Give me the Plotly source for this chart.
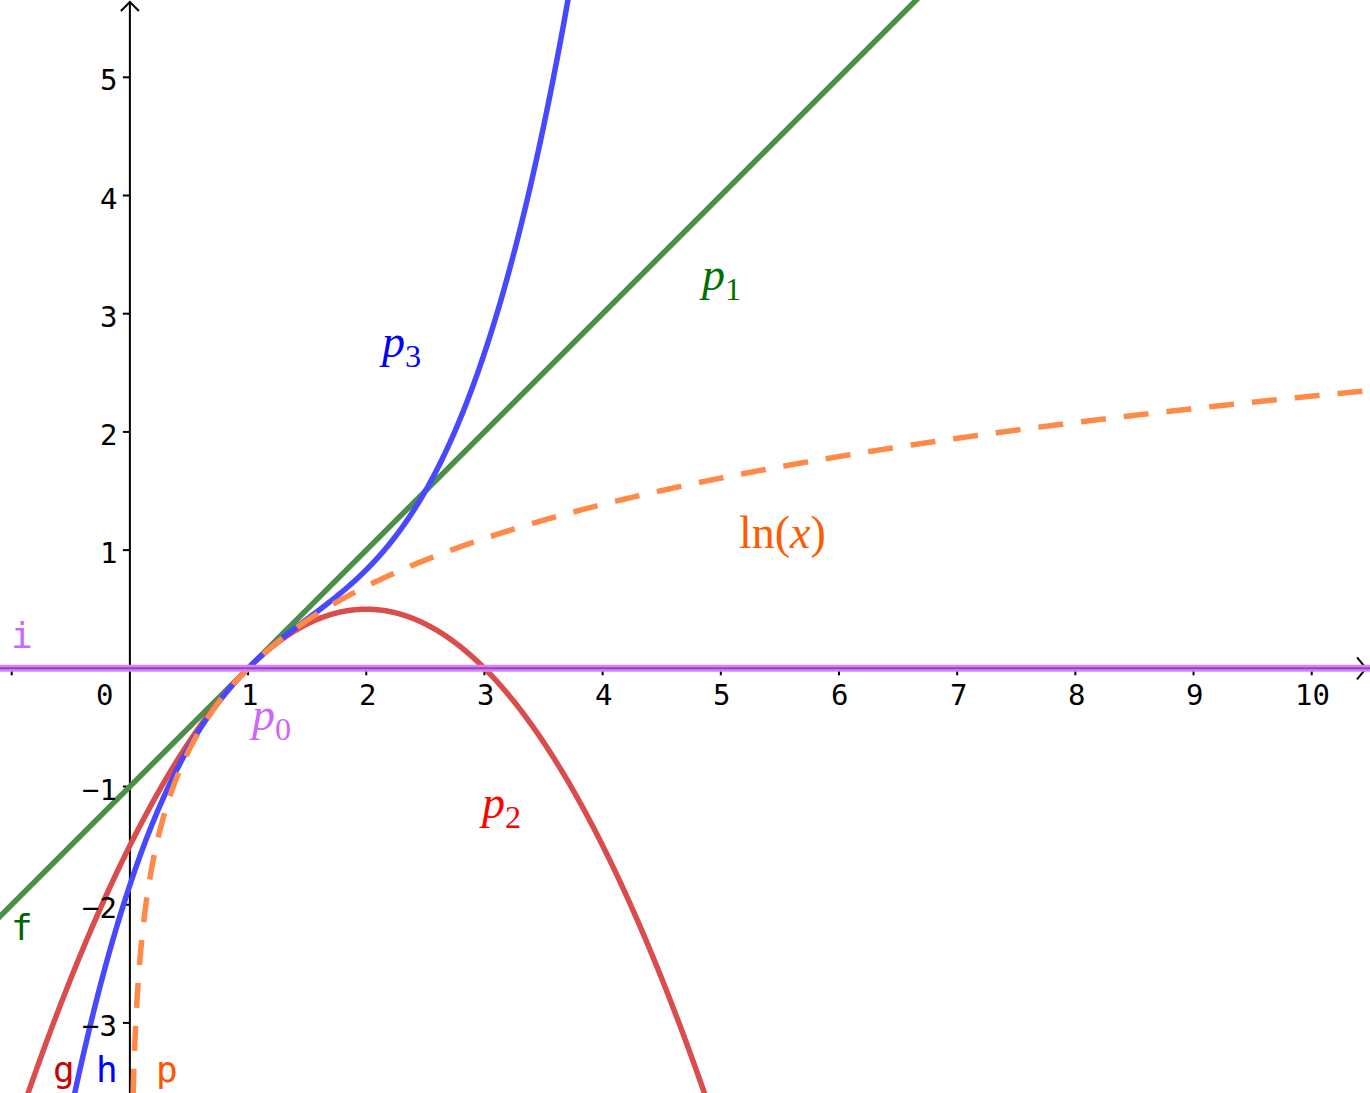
import numpy as np
import plotly.graph_objects as go

W, H = 1370, 1093
X_RANGE = [-1.099, 10.493]
Y_RANGE = [-3.593, 5.654]

# Taylor polynomial coefficients of ln(x) around x = 1, in powers of (x - 1)
p0_coeffs = [0.0]
p1_coeffs = [0.0, 1.0]
p2_coeffs = [0.0, 1.0, -1 / 2]
p3_coeffs = [0.0, 1.0, -1 / 2, 1 / 3]

x_ticks = [-1, 0, 1, 2, 3, 4, 5, 6, 7, 8, 9, 10]
x_tick_labels = ["0", "1", "2", "3", "4", "5", "6", "7", "8", "9", "10"]
x_tick_label_vals = [0, 1, 2, 3, 4, 5, 6, 7, 8, 9, 10]
y_ticks = [-3, -2, -1, 1, 2, 3, 4, 5]
y_tick_labels = ["\u22123", "\u22122", "\u22121", "1", "2", "3", "4", "5"]


def taylor(coeffs, x):
    t = x - 1.0
    return sum(c * t ** k for k, c in enumerate(coeffs))


xs = np.linspace(-1.3, 10.7, 2400)
xl = np.concatenate([np.geomspace(0.0005, 0.6, 600), np.linspace(0.6, 10.7, 1200)])

GREEN = "#4b8f4b"
RED = "#da4d4d"
BLUE = "#4848ff"
ORANGE = "#ff8a48"
LW = 5.5

fig = go.Figure()
fig.add_trace(go.Scatter(x=xs, y=taylor(p1_coeffs, xs), mode="lines",
                         line=dict(color=GREEN, width=LW, simplify=False), hoverinfo="skip"))
fig.add_trace(go.Scatter(x=xs, y=taylor(p2_coeffs, xs), mode="lines",
                         line=dict(color=RED, width=LW, simplify=False), hoverinfo="skip"))
fig.add_trace(go.Scatter(x=xs, y=taylor(p3_coeffs, xs), mode="lines",
                         line=dict(color=BLUE, width=LW, simplify=False), hoverinfo="skip"))
fig.add_trace(go.Scatter(x=xl, y=np.log(xl), mode="lines",
                         line=dict(color=ORANGE, width=LW, dash="25px,18px", simplify=False),
                         hoverinfo="skip"))
# p0 (horizontal line) with halo
fig.add_trace(go.Scatter(x=xs, y=taylor(p0_coeffs, xs) * np.ones_like(xs), mode="lines",
                         line=dict(color="#d785f5", width=7), hoverinfo="skip"))
fig.add_trace(go.Scatter(x=xs, y=taylor(p0_coeffs, xs) * np.ones_like(xs), mode="lines",
                         line=dict(color="#9a3fcc", width=2), hoverinfo="skip"))

shapes = []
x_end = (1366 - 129.9) / 118.18
y_top = (668.3 - 2) / 118.2
shapes.append(dict(type="line", xref="x", yref="y", x0=X_RANGE[0] - 1, x1=x_end, y0=0, y1=0,
                   line=dict(color="black", width=2), layer="below"))
shapes.append(dict(type="line", xref="x", yref="y", x0=0, x1=0, y0=Y_RANGE[0] - 1, y1=y_top,
                   line=dict(color="black", width=2), layer="below"))
for xt in x_ticks:
    if xt == 0:
        continue
    shapes.append(dict(type="line", xref="x", yref="y", ysizemode="pixel", yanchor=0,
                       x0=xt, x1=xt, y0=-7, y1=0, line=dict(color="black", width=2), layer="below"))
for yt in y_ticks:
    shapes.append(dict(type="line", xref="x", yref="y", xsizemode="pixel", xanchor=0,
                       y0=yt, y1=yt, x0=-7, x1=0, line=dict(color="black", width=2), layer="below"))
shapes.append(dict(type="path", xref="x", yref="y", xsizemode="pixel", ysizemode="pixel",
                   xanchor=x_end, yanchor=0, path="M -9,11 L 0,0 L -9,-11",
                   line=dict(color="black", width=2), layer="below"))
shapes.append(dict(type="path", xref="x", yref="y", xsizemode="pixel", ysizemode="pixel",
                   xanchor=0, yanchor=y_top, path="M -9,-9 L 0,0 L 9,-9",
                   line=dict(color="black", width=2), layer="below"))

ann = []
tick_font = dict(family="DejaVu Sans Mono", size=29, color="black")
for v, t in zip(x_tick_label_vals, x_tick_labels):
    ann.append(dict(x=v, y=0, text=t, showarrow=False, xanchor="center", yanchor="middle",
                    xshift=-25 if v == 0 else 1, yshift=-27, font=tick_font))
for v, t in zip(y_ticks, y_tick_labels):
    ann.append(dict(x=0, y=v, text=t, showarrow=False, xanchor="right", yanchor="middle",
                    xshift=-11, yshift=-3, font=tick_font))

serif = "Liberation Serif"
math_labels = [
    ("<i>p</i><sub>1</sub>", 4.99, 3.30, "#007000"),
    ("<i>p</i><sub>3</sub>", 2.285, 2.735, "#0000ff"),
    ("ln(<i>x</i>)", 5.52, 1.147, "#ff5a00"),
    ("<i>p</i><sub>2</sub>", 3.13, -1.165, "#ff0000"),
    ("<i>p</i><sub>0</sub>", 1.185, -0.42, "#cc66ff"),
]
for t, x, y, c in math_labels:
    ann.append(dict(x=x, y=y, text=t, showarrow=False, xanchor="center", yanchor="middle",
                    font=dict(family=serif, size=46, color=c)))

name_labels = [
    ("f", -0.912, -2.197, "#006400"),
    ("g", -0.558, -3.398, "#cc0000"),
    ("h", -0.194, -3.398, "#0000ff"),
    ("p", 0.314, -3.398, "#ff5500"),
    ("i", -0.913, 0.28, "#cc66ff"),
]
for t, x, y, c in name_labels:
    ann.append(dict(x=x, y=y, text=t, showarrow=False, xanchor="center", yanchor="middle",
                    font=dict(family="DejaVu Sans Mono", size=36, color=c)))

fig.update_layout(
    width=W, height=H, margin=dict(l=0, r=0, t=0, b=0),
    paper_bgcolor="white", plot_bgcolor="white", showlegend=False,
    xaxis=dict(range=X_RANGE, visible=False, showgrid=False, zeroline=False, fixedrange=True),
    yaxis=dict(range=Y_RANGE, visible=False, showgrid=False, zeroline=False, fixedrange=True),
    shapes=shapes, annotations=ann,
)
fig.write_html("out.html", config={"displayModeBar": False},
               post_script="document.body.style.margin='0';document.body.style.overflow='hidden';")
